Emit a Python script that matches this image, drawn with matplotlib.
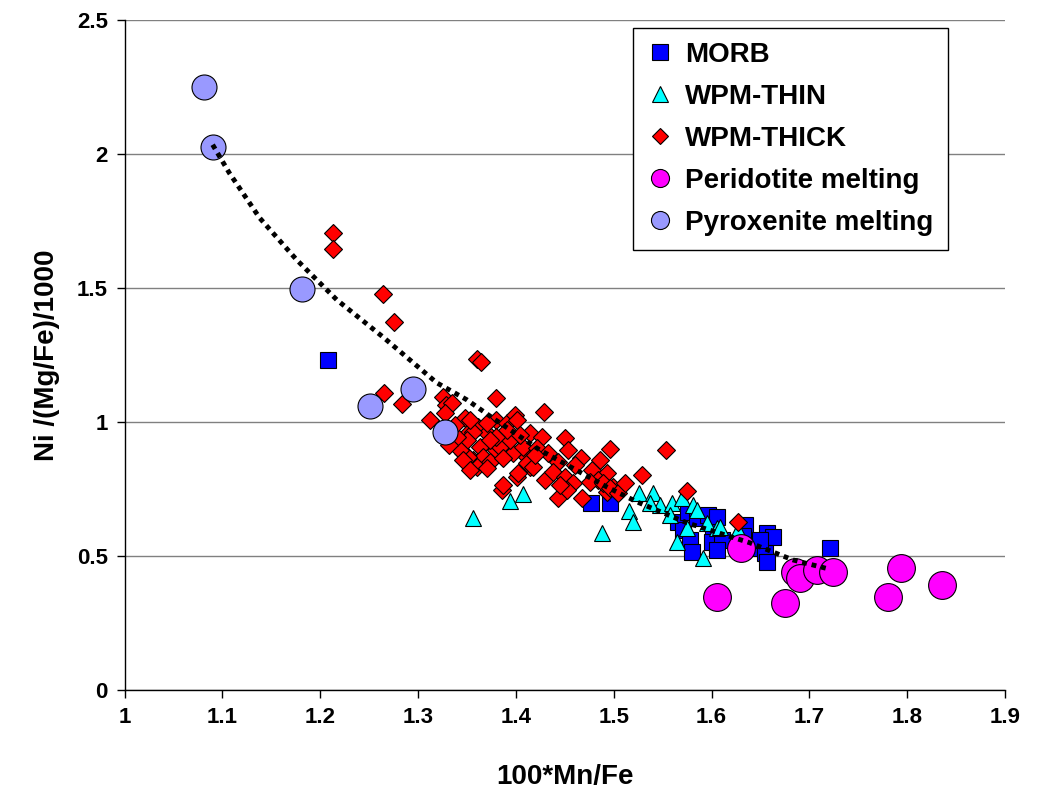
import matplotlib
matplotlib.use("Agg")
import matplotlib.pyplot as plt
from matplotlib.lines import Line2D
import numpy as np

plt.rcParams["font.family"] = ["Liberation Sans", "DejaVu Sans"]
plt.rcParams["font.weight"] = "bold"

# ---- data ----
morb_x = [1.208, 1.477, 1.496, 1.566, 1.576, 1.571, 1.578, 1.580, 1.585, 1.596,
          1.605, 1.601, 1.600, 1.611, 1.606, 1.634, 1.632, 1.647, 1.657, 1.663,
          1.655, 1.657, 1.649, 1.721]
morb_y = [1.231, 0.698, 0.698, 0.627, 0.664, 0.597, 0.560, 0.515, 0.642, 0.653,
          0.646, 0.590, 0.552, 0.560, 0.522, 0.616, 0.575, 0.530, 0.586, 0.571,
          0.511, 0.478, 0.560, 0.530]

thin_x = [1.356, 1.394, 1.407, 1.488, 1.516, 1.520, 1.526, 1.540, 1.547, 1.537,
          1.560, 1.570, 1.581, 1.585, 1.575, 1.565, 1.591, 1.595, 1.605, 1.609,
          1.627, 1.557]
thin_y = [0.642, 0.705, 0.731, 0.586, 0.668, 0.627, 0.735, 0.735, 0.690, 0.698,
          0.698, 0.716, 0.690, 0.672, 0.604, 0.552, 0.493, 0.623, 0.604, 0.608,
          0.597, 0.653]

thick_x = [1.213, 1.213, 1.264, 1.275, 1.265, 1.284, 1.312, 1.360, 1.364, 1.380,
           1.429, 1.450, 1.496, 1.430, 1.386, 1.468, 1.443, 1.529, 1.575, 1.627,
           1.325, 1.329, 1.335, 1.327, 1.348, 1.351, 1.361, 1.370, 1.380, 1.391,
           1.399, 1.414, 1.427, 1.346, 1.356, 1.363, 1.380, 1.397, 1.411, 1.401,
           1.414, 1.370, 1.356, 1.350, 1.363, 1.366, 1.351, 1.373, 1.360, 1.384,
           1.387, 1.394, 1.407, 1.411, 1.402, 1.391, 1.380, 1.343, 1.346, 1.353,
           1.370, 1.340, 1.387, 1.401, 1.422, 1.433, 1.443, 1.438, 1.450, 1.458,
           1.467, 1.478, 1.486, 1.493, 1.484, 1.499, 1.476, 1.452, 1.493, 1.453,
           1.417, 1.489, 1.496, 1.504, 1.338, 1.332, 1.404, 1.419, 1.460, 1.445,
           1.373, 1.353, 1.511, 1.553]
thick_y = [1.705, 1.646, 1.478, 1.373, 1.108, 1.067, 1.007, 1.235, 1.224, 1.090,
           1.037, 0.940, 0.899, 0.784, 0.746, 0.716, 0.716, 0.802, 0.743, 0.627,
           1.093, 1.063, 1.071, 1.034, 1.015, 0.959, 0.981, 0.959, 1.007, 0.996,
           1.026, 0.959, 0.944, 0.884, 0.858, 0.847, 0.896, 0.884, 0.869, 0.795,
           0.832, 0.996, 0.963, 0.933, 0.907, 0.869, 0.869, 0.851, 0.832, 0.907,
           0.866, 0.933, 0.907, 0.847, 0.810, 0.970, 0.944, 0.896, 0.858, 0.821,
           0.828, 0.944, 0.765, 1.007, 0.903, 0.884, 0.851, 0.813, 0.795, 0.772,
           0.866, 0.821, 0.858, 0.810, 0.784, 0.757, 0.776, 0.746, 0.739, 0.896,
           0.832, 0.772, 0.754, 0.735, 0.989, 0.914, 0.951, 0.877, 0.840, 0.765,
           0.933, 1.007, 0.772, 0.896]

perid_x = [1.630, 1.685, 1.690, 1.708, 1.724, 1.794, 1.835, 1.605, 1.675, 1.780]
perid_y = [0.530, 0.440, 0.418, 0.448, 0.440, 0.455, 0.392, 0.347, 0.325, 0.347]

pyrox_x = [1.081, 1.090, 1.181, 1.251, 1.295, 1.327]
pyrox_y = [2.250, 2.026, 1.496, 1.060, 1.123, 0.963]

# trend curve through the melting models
trend_x = [1.090, 1.107, 1.138, 1.176, 1.217, 1.264, 1.319, 1.350, 1.376, 1.424,
           1.493, 1.524, 1.575, 1.639, 1.683, 1.721]
trend_y = [2.034, 1.929, 1.761, 1.604, 1.455, 1.317, 1.146, 1.082, 1.015, 0.896,
           0.757, 0.701, 0.623, 0.549, 0.485, 0.450]

fig = plt.figure(figsize=(10.47, 7.93), dpi=100)
ax = fig.add_axes([0.119, 0.130, 0.841, 0.845])

edge = dict(markeredgecolor="black", markeredgewidth=0.8, linestyle="none")
ax.plot(morb_x, morb_y, "s", color="#0000FF", markersize=11.5, **edge, zorder=3)
ax.plot(thin_x, thin_y, "^", color="#00FFFF", markersize=12, **edge, zorder=4)
ax.plot(thick_x, thick_y, "D", color="#FF0000", markersize=8.7, **edge, zorder=5)
ax.plot(perid_x, perid_y, "o", color="#FF00FF", markersize=20, **edge, zorder=6)
ax.plot(pyrox_x, pyrox_y, "o", color="#9999FF", markersize=18, **edge, zorder=7)
ax.plot(trend_x, trend_y, color="black", linewidth=3.5, linestyle=(0, (1, 1)),
        zorder=8)

ax.set_xlim(1, 1.9)
ax.set_ylim(0, 2.5)
ax.set_xticks(np.arange(1, 1.95, 0.1))
ax.set_xticklabels(["1", "1.1", "1.2", "1.3", "1.4", "1.5", "1.6", "1.7", "1.8", "1.9"])
ax.set_yticks([0, 0.5, 1, 1.5, 2, 2.5])
ax.set_yticklabels(["0", "0.5", "1", "1.5", "2", "2.5"])
ax.yaxis.grid(True, color="#808080", linewidth=1)
ax.set_axisbelow(True)
for s in ["top", "right"]:
    ax.spines[s].set_visible(False)
ax.spines["left"].set_linewidth(1)
ax.spines["bottom"].set_linewidth(1)
ax.tick_params(direction="out", length=6, width=1, labelsize=16, pad=6)
for lab in ax.get_xticklabels() + ax.get_yticklabels():
    lab.set_fontweight("bold")

ax.set_xlabel("100*Mn/Fe", fontsize=20, fontweight="bold", labelpad=26)
ax.set_ylabel("Ni /(Mg/Fe)/1000", fontsize=20, fontweight="bold", labelpad=12)

handles = [
    Line2D([], [], marker="s", color="#0000FF", markersize=11, **edge),
    Line2D([], [], marker="^", color="#00FFFF", markersize=12, **edge),
    Line2D([], [], marker="D", color="#FF0000", markersize=8.5, **edge),
    Line2D([], [], marker="o", color="#FF00FF", markersize=13, **edge),
    Line2D([], [], marker="o", color="#9999FF", markersize=13, **edge),
]
labels = ["MORB", "WPM-THIN", "WPM-THICK", "Peridotite melting", "Pyroxenite melting"]
leg = ax.legend(handles, labels, loc="upper left", bbox_to_anchor=(0.577, 0.988),
                fancybox=False, framealpha=1, edgecolor="black",
                prop={"weight": "bold", "size": 20}, handlelength=1.0,
                handletextpad=0.4, labelspacing=0.58, borderpad=0.5,
                borderaxespad=0)
leg.get_frame().set_linewidth(1)

fig.savefig("out.png", dpi=100)
